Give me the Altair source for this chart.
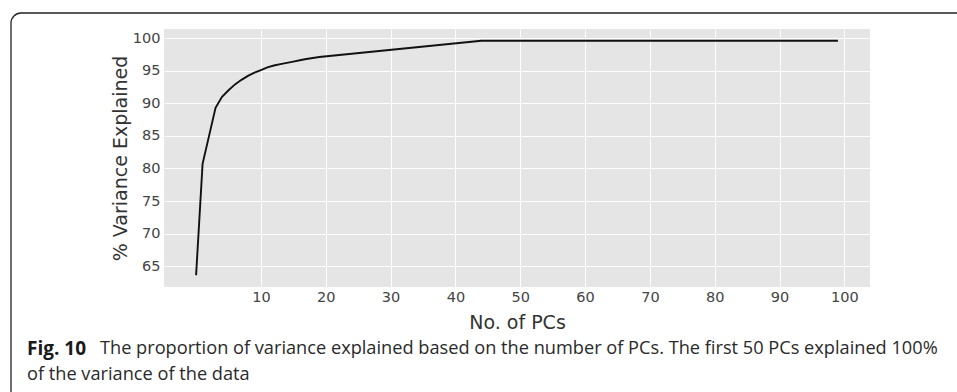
import altair as alt
import pandas as pd

# Number of principal components (x) and cumulative % variance explained (y)
pcs = [0, 1, 2, 3, 4, 5, 6, 7, 8, 9, 10, 11, 12, 13, 14, 15, 16, 17, 18, 19, 44, 99]
variance = [63.6, 80.7, 85.0, 89.3, 91.0, 92.0, 92.9, 93.6, 94.2, 94.7, 95.1, 95.5,
            95.8, 96.0, 96.2, 96.4, 96.6, 96.8, 96.95, 97.1, 99.6, 99.6]

x_ticks = [10, 20, 30, 40, 50, 60, 70, 80, 90, 100]
y_ticks = [65, 70, 75, 80, 85, 90, 95, 100]

x_title = "No. of PCs"
y_title = "% Variance Explained"
fig_label = ["Fig. 10"]
caption_line1 = ["The proportion of variance explained based on the number of PCs. The first 50 PCs explained 100%"]
caption_line2 = ["of the variance of the data"]

df = pd.DataFrame({"pc": pcs, "var": variance})

line = alt.Chart(df).mark_line(color="#111111", strokeWidth=1.9).encode(
    x=alt.X("pc:Q",
            scale=alt.Scale(domain=[-4.95, 103.95], nice=False, zero=False),
            axis=alt.Axis(values=x_ticks, title=x_title, titleX=353, titleY=35,
                          titleAlign="center", titleBaseline="middle", labelPadding=3)),
    y=alt.Y("var:Q",
            scale=alt.Scale(domain=[61.8, 101.4], nice=False, zero=False),
            axis=alt.Axis(values=y_ticks, title=y_title, titleX=-44, titleY=129,
                          titleAngle=-90, titleAlign="center", titleBaseline="middle",
                          labelPadding=4)),
)

border = alt.Chart(pd.DataFrame({"k": [0]})).mark_rect(
    filled=False, stroke="#222222", strokeWidth=1.3, cornerRadius=10, clip=False
).encode(
    x=alt.value(-153), x2=alt.value(900), y=alt.value(-16), y2=alt.value(450)
)

fig_text = alt.Chart(pd.DataFrame({"t": fig_label})).mark_text(
    align="left", baseline="middle", font="Open Sans", fontSize=19, fontWeight="bold",
    color="#1a1a1a"
).encode(x=alt.value(-137), y=alt.value(320), text="t:N")

cap1 = alt.Chart(pd.DataFrame({"t": caption_line1})).mark_text(
    align="left", baseline="middle", font="Open Sans", fontSize=18.2, color="#2a2a2a"
).encode(x=alt.value(-64), y=alt.value(320), text="t:N")

cap2 = alt.Chart(pd.DataFrame({"t": caption_line2})).mark_text(
    align="left", baseline="middle", font="Open Sans", fontSize=18.2, color="#2a2a2a"
).encode(x=alt.value(-137), y=alt.value(346), text="t:N")

chart = alt.layer(border, line, fig_text, cap1, cap2).properties(
    width=706, height=258,
    autosize=alt.AutoSizeParams(type="none"),
    padding={"left": 164, "top": 29, "right": 87, "bottom": 105},
    background="white",
).configure_view(
    fill="#E5E5E5", strokeWidth=0
).configure_axis(
    grid=True, gridColor="white", gridWidth=1, domain=False, ticks=False,
    labelFont="DejaVu Sans", labelFontSize=14.5, labelColor="#444444",
    titleFont="DejaVu Sans", titleFontSize=19, titleColor="#333333",
    titleFontWeight="normal",
)

chart.save("out.html", embed_options={"renderer": "svg", "actions": False})
